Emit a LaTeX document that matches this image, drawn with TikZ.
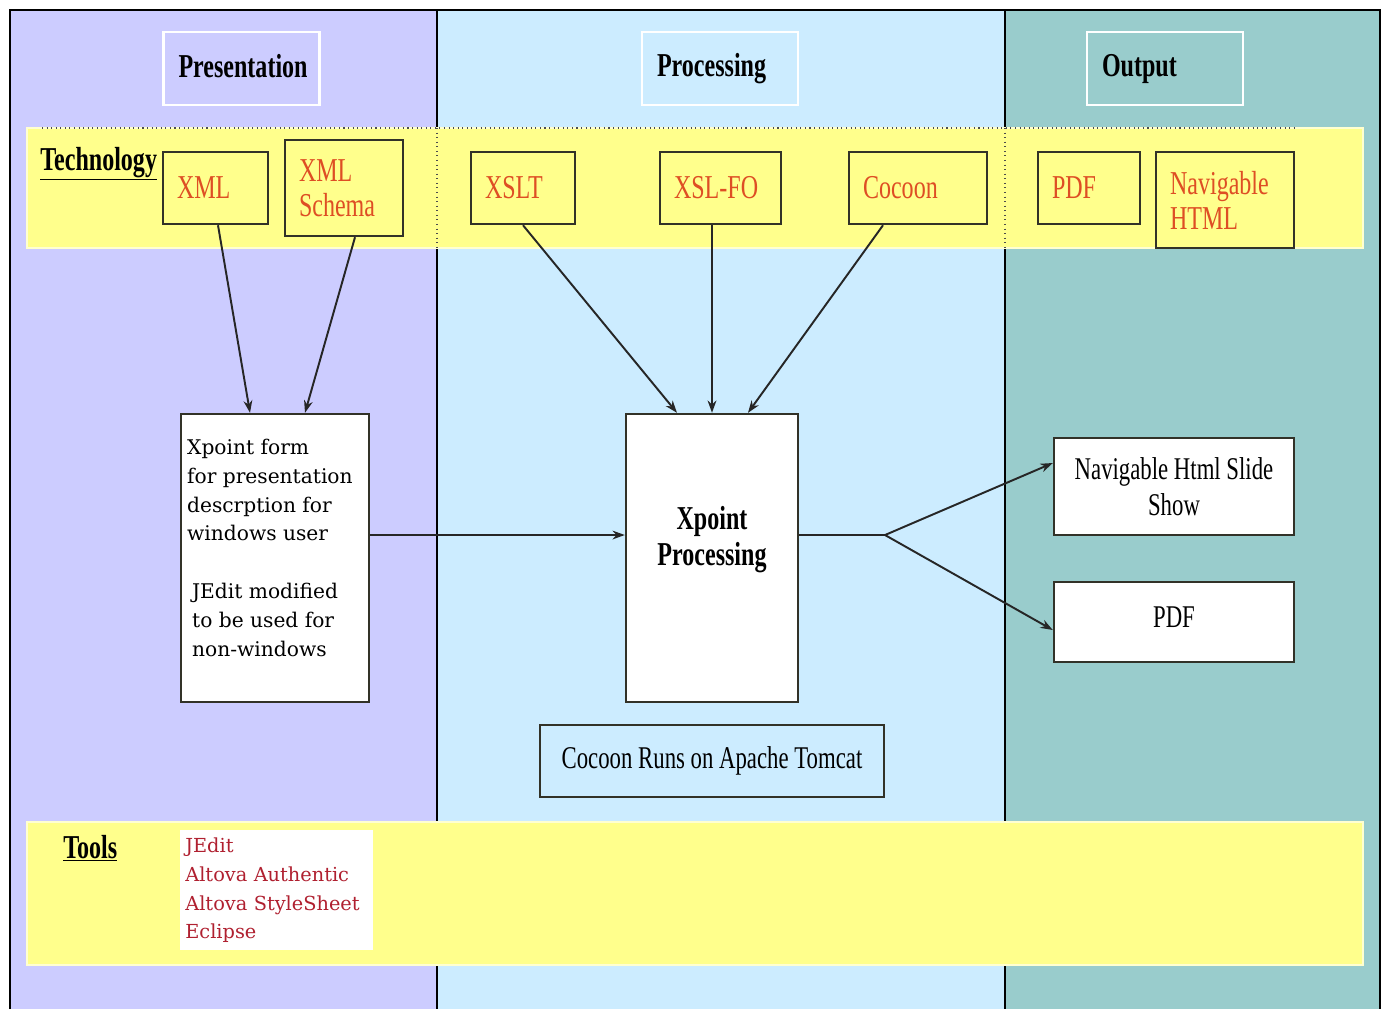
\documentclass[tikz,border=0pt]{standalone}
\usepackage{fontspec}
\setmainfont{Liberation Serif}
\newfontfamily\narrowfont[FakeStretch=0.72]{Liberation Serif}
\newfontfamily\slabfont{DejaVu Serif}
\usetikzlibrary{arrows.meta}

\definecolor{lavender}{RGB}{204,204,255}
\definecolor{paleblue}{RGB}{204,236,255}
\definecolor{outteal}{RGB}{153,204,204}
\definecolor{bandyellow}{RGB}{255,255,140}
\definecolor{techred}{RGB}{222,78,36}
\definecolor{toolred}{RGB}{176,32,48}
\definecolor{boxline}{RGB}{50,50,40}

\tikzset{
  header/.style={draw=white, line width=1.2pt, inner xsep=0.3cm, text width=2.52cm,
    minimum height=1.46cm, align=left, font=\narrowfont\bfseries\fontsize{19}{20}\selectfont},
  techbox/.style={draw=boxline, line width=1.4pt, fill=bandyellow, text=techred,
    inner xsep=0.28cm, align=left, font=\narrowfont\fontsize{19}{20}\selectfont},
  whitebox/.style={draw=boxline, line width=1.4pt, fill=white},
  bodytext/.style={font=\narrowfont\fontsize{18}{20.4}\selectfont},
  flow/.style={-{Stealth[length=7pt,width=5pt]}, line width=1.1pt, draw=black!85},
  band/.style={fill=bandyellow, draw=white!60!bandyellow, line width=0.8pt},
  divider/.style={line width=0.8pt},
}

\begin{document}
\begin{tikzpicture}[x=0.02cm, y=-0.02cm]
\useasboundingbox (0,0) rectangle (1385,1009);

% columns
\fill[lavender] (10,10) rectangle (437,1009);
\fill[paleblue] (437,10) rectangle (1005,1009);
\fill[outteal] (1005,10) rectangle (1380,1009);
\draw[divider] (10,1009) -- (10,10) -- (1380,10) -- (1380,1009);
\draw[divider] (437,10) -- (437,1009);
\draw[divider] (1005,10) -- (1005,1009);

% column headers
\node[header] (pres) at (241.5,68.5) {\raisebox{0.1cm}{Presentation}};
\node[header] (procH) at (720,68.5) {\raisebox{0.1cm}{Processing}};
\node[header] (outH) at (1165,68.5) {\raisebox{0.1cm}{Output}};

% technology band
\draw[band] (27,128) rectangle (1363,248);
\draw[dotted, line width=0.6pt, black!70] (42,128) -- (1295,128);
\draw[dotted, line width=0.6pt, black!70] (437,128) -- (437,248);
\draw[dotted, line width=0.6pt, black!70] (1005,128) -- (1005,248);
\node[anchor=base west, inner sep=0, font=\narrowfont\bfseries\fontsize{19}{20}\selectfont]
  (tech) at (40,170) {\underline{Technology}};

\node[techbox, text width=1.54cm, minimum height=1.44cm] (xml) at (215.5,188) {XML};
\node[techbox, text width=1.80cm, minimum height=1.92cm] (schema) at (344,188) {XML\\Schema};
\node[techbox, text width=1.52cm, minimum height=1.44cm] (xslt) at (523,188) {XSLT};
\node[techbox, text width=1.86cm, minimum height=1.44cm] (xslfo) at (720.5,188) {XSL-FO};
\node[techbox, text width=2.20cm, minimum height=1.44cm] (cocoon) at (918,188) {Cocoon};
\node[techbox, text width=1.48cm, minimum height=1.44cm] (pdfT) at (1089,188) {PDF};
\node[techbox, text width=2.20cm, minimum height=1.92cm] (navT) at (1225,200) {Navigable\\HTML};

% main flow
\node[whitebox, minimum width=3.76cm, minimum height=5.76cm] (form) at (275,558) {};
\node[anchor=north west, inner sep=0, align=left, font=\slabfont\fontsize{11.5}{16.4}\selectfont]
  (formtext) at ([xshift=0.14cm,yshift=-0.52cm]form.north west)
  {Xpoint form\\for presentation\\descrption for\\windows user\\[16.4pt]
   \hspace*{0.1cm}JEdit modified\\\hspace*{0.1cm}to be used for\\\hspace*{0.1cm}non-windows};

\node[whitebox, minimum width=3.44cm, minimum height=5.76cm] (proc) at (712,558) {};
\node[align=center, font=\narrowfont\bfseries\fontsize{19}{20.4}\selectfont]
  (proctext) at ([yshift=0.36cm]proc.center) {Xpoint\\Processing};

\node[draw=boxline, line width=1.4pt, fill=paleblue, minimum width=6.88cm, minimum height=1.44cm,
  bodytext] (tomcat) at (712,761) {\raisebox{0.06cm}{Cocoon Runs on Apache Tomcat}};

\node[whitebox, bodytext, align=center, minimum width=4.8cm, minimum height=1.94cm]
  (nav) at (1174,486.5) {Navigable Html Slide\\Show};
\node[whitebox, bodytext, minimum width=4.8cm, minimum height=1.6cm] (pdf) at (1174,622)
  {\raisebox{0.2cm}{PDF}};

\draw[flow] ([xshift=0.05cm]xml.south) -- ([xshift=-0.5cm]form.north);
\draw[flow] ([xshift=0.22cm]schema.south) -- ([xshift=0.6cm]form.north);
\draw[flow] (xslt.south) -- ([xshift=-0.7cm]proc.north);
\draw[flow] (proc.north |- xslfo.south) -- (proc.north);
\draw[flow] ([xshift=-0.7cm]cocoon.south) -- ([xshift=0.72cm]proc.north);
\draw[flow] ([yshift=0.46cm]form.east) -- ([yshift=0.46cm]proc.west);

\coordinate (fork) at (885,535);
\draw[line width=1.1pt, draw=black!85] ([yshift=0.46cm]proc.east) -- (fork);
\draw[flow] (fork) -- ([yshift=0.47cm]nav.west);
\draw[flow] (fork) -- ([yshift=-0.16cm]pdf.west);

% tools band
\draw[band] (27,822) rectangle (1363,965);
\node[anchor=base west, inner sep=0, font=\narrowfont\bfseries\fontsize{19}{20}\selectfont]
  (tools) at (63,858) {\underline{Tools}};
\node[fill=white, text=toolred, anchor=north west, align=left, text width=3.66cm,
  inner xsep=0.1cm, minimum height=2.4cm, font=\slabfont\fontsize{11}{16.4}\selectfont]
  (toollist) at (180,830) {JEdit\\Altova Authentic\\Altova StyleSheet\\Eclipse};
\end{tikzpicture}
\end{document}
